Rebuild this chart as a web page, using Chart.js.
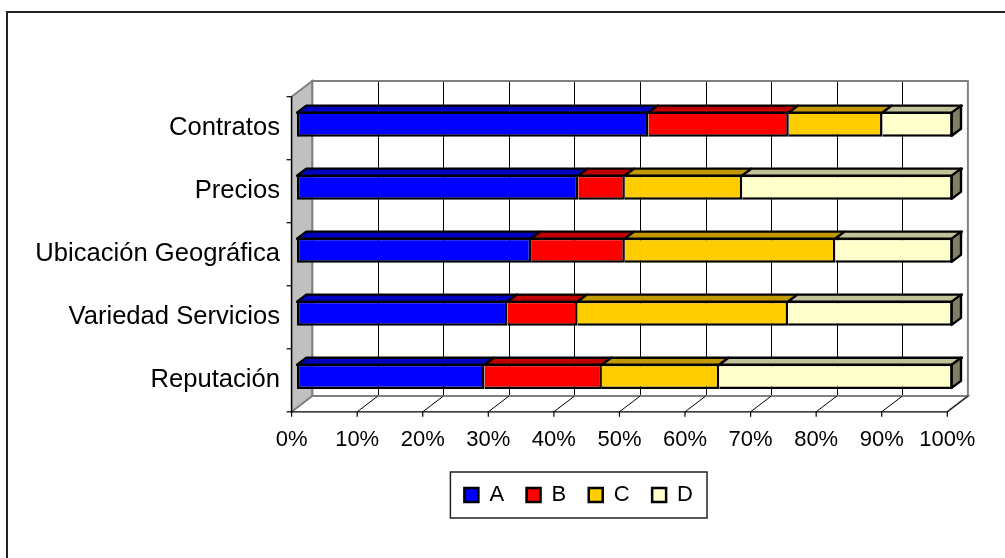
<!DOCTYPE html>
<html>
<head>
<meta charset="utf-8">
<script src="https://cdn.jsdelivr.net/npm/chart.js@4"></script>
<style>
  html, body { margin: 0; padding: 0; background: #fff; }
</style>
</head>
<body>
<canvas id="chart" width="1005" height="558"></canvas>
<script>
const categories = ['Contratos', 'Precios', 'Ubicación Geográfica', 'Variedad Servicios', 'Reputación']
const seriesNames = ['A', 'B', 'C', 'D']
const valuesA = [53.6, 42.9, 35.7, 32.1, 28.6]
const valuesB = [21.4, 7.1, 14.3, 10.7, 17.9]
const valuesC = [14.3, 17.9, 32.1, 32.1, 17.9]
const valuesD = [10.7, 32.1, 17.9, 25.1, 35.6]
const xTickValues = [0, 10, 20, 30, 40, 50, 60, 70, 80, 90, 100]

const faceColors = ['#0000FF', '#FF0000', '#FFCC00', '#FFFFCC']
const topColors = ['#0000C0', '#C00000', '#C09900', '#C0C099']
const endColor = '#808066'

// offsets of the front axis plane, the back wall and the bar depth,
// measured from the plane the bar fronts are drawn in
const depth = { fx: -5.4, fy: 4.0, bx: 15.2, by: -11.7, dx: 9.3, dy: -7.0 }

const fontFamily = 'Arial, "Liberation Sans", sans-serif'
Chart.defaults.font.family = fontFamily
Chart.defaults.color = '#000'

const plotLeft = 297
const padLeft = 204.7
const catFontSize = 25.6

// the category labels are mirrored so they are not clipped to the axis box;
// their right edge is put back 17px left of the plot with a negative padding
const measure = document.createElement('canvas').getContext('2d')
measure.font = catFontSize + 'px ' + fontFamily
const widestCat = Math.max(...categories.map(c => measure.measureText(c).width))

const box3d = {
  id: 'box3d',
  beforeDraw(chart) {
    const ctx = chart.ctx
    ctx.save()
    ctx.strokeStyle = '#222'
    ctx.lineWidth = 2
    ctx.beginPath()
    ctx.moveTo(7, chart.height)
    ctx.lineTo(7, 12)
    ctx.lineTo(chart.width, 12)
    ctx.stroke()
    ctx.restore()
  },
  beforeDatasetsDraw(chart) {
    const { ctx, chartArea: a, scales: { x, y } } = chart
    const L = a.left + depth.bx, R = a.right + depth.bx
    const T = a.top + depth.by, B = a.bottom + depth.by
    const fl = a.left + depth.fx, fr = a.right + depth.fx
    const ft = a.top + depth.fy, fb = a.bottom + depth.fy
    ctx.save()

    // back wall and its gridlines
    ctx.fillStyle = '#fff'
    ctx.fillRect(L, T, R - L, B - T)
    ctx.strokeStyle = '#000'
    ctx.lineWidth = 1
    xTickValues.slice(1, -1).forEach(v => {
      const px = Math.round(x.getPixelForValue(v) + depth.bx) + 0.5
      ctx.beginPath()
      ctx.moveTo(px, T)
      ctx.lineTo(px, B)
      ctx.stroke()
    })
    ctx.strokeStyle = '#808080'
    ctx.lineWidth = 2
    ctx.strokeRect(L, T, R - L, B - T)

    // floor
    ctx.fillStyle = '#fff'
    ctx.beginPath()
    ctx.moveTo(fl, fb)
    ctx.lineTo(L, B)
    ctx.lineTo(R, B)
    ctx.lineTo(fr, fb)
    ctx.closePath()
    ctx.fill()
    ctx.beginPath()
    ctx.moveTo(L, B)
    ctx.lineTo(R, B)
    ctx.lineTo(fr, fb)
    ctx.stroke()
    ctx.strokeStyle = '#000'
    ctx.lineWidth = 1
    xTickValues.forEach(v => {
      const px = x.getPixelForValue(v)
      ctx.beginPath()
      ctx.moveTo(px + depth.fx, fb)
      ctx.lineTo(px + depth.bx, B)
      ctx.stroke()
    })

    // side wall
    ctx.fillStyle = '#C0C0C0'
    ctx.strokeStyle = '#808080'
    ctx.lineWidth = 2
    ctx.beginPath()
    ctx.moveTo(fl, ft)
    ctx.lineTo(L, T)
    ctx.lineTo(L, B)
    ctx.lineTo(fl, fb)
    ctx.closePath()
    ctx.fill()
    ctx.stroke()

    // front axes with tick marks
    ctx.strokeStyle = '#000'
    ctx.lineWidth = 1.2
    ctx.beginPath()
    ctx.moveTo(fl, ft)
    ctx.lineTo(fl, fb)
    ctx.lineTo(fr, fb)
    ctx.stroke()
    for (let i = 0; i <= categories.length; i++) {
      const py = y.getPixelForValue(i - 0.5) + depth.fy
      ctx.beginPath()
      ctx.moveTo(fl - 5, py)
      ctx.lineTo(fl, py)
      ctx.stroke()
    }
    xTickValues.forEach(v => {
      const px = x.getPixelForValue(v) + depth.fx
      ctx.beginPath()
      ctx.moveTo(px, fb)
      ctx.lineTo(px, fb + 5)
      ctx.stroke()
    })
    ctx.restore()
  },
  afterDatasetsDraw(chart) {
    const ctx = chart.ctx
    const last = chart.data.datasets.length - 1
    ctx.save()
    ctx.strokeStyle = '#000'
    ctx.lineWidth = 2.4
    ctx.lineJoin = 'round'
    chart.data.datasets.forEach((ds, i) => {
      chart.getDatasetMeta(i).data.forEach(bar => {
        const { x, y, base, height } = bar.getProps(['x', 'y', 'base', 'height'], true)
        const l = Math.min(x, base), r = Math.max(x, base)
        const t = y - height / 2 + 1, b = y + height / 2 - 1
        ctx.fillStyle = topColors[i]
        ctx.beginPath()
        ctx.moveTo(l, t)
        ctx.lineTo(l + depth.dx, t + depth.dy)
        ctx.lineTo(r + depth.dx, t + depth.dy)
        ctx.lineTo(r, t)
        ctx.closePath()
        ctx.fill()
        ctx.stroke()
        if (i === last) {
          ctx.fillStyle = endColor
          ctx.beginPath()
          ctx.moveTo(r - 1, t)
          ctx.lineTo(r - 1 + depth.dx, t + depth.dy)
          ctx.lineTo(r - 1 + depth.dx, b + depth.dy)
          ctx.lineTo(r - 1, b)
          ctx.closePath()
          ctx.fill()
          ctx.stroke()
        }
      })
    })
    ctx.restore()
  },
  afterDraw(chart) {
    // frame round the legend
    const hb = chart.legend.legendHitBoxes
    if (!hb || !hb.length) return
    const first = hb[0], lastBox = hb[hb.length - 1]
    const cy = first.top + first.height / 2
    const left = first.left - 14, right = lastBox.left + lastBox.width + 14
    const ctx = chart.ctx
    ctx.save()
    ctx.strokeStyle = '#222'
    ctx.lineWidth = 1.5
    ctx.strokeRect(left, cy - 23, right - left, 46)
    ctx.restore()
  }
}

const allValues = [valuesA, valuesB, valuesC, valuesD]

new Chart(document.getElementById('chart'), {
  type: 'bar',
  data: {
    labels: categories,
    datasets: seriesNames.map((name, i) => ({
      label: name,
      data: allValues[i],
      backgroundColor: faceColors[i],
      borderColor: '#000',
      borderWidth: 2.5,
      borderSkipped: i === 0 ? false : 'start',
      barPercentage: 0.4,
      categoryPercentage: 1
    }))
  },
  options: {
    indexAxis: 'y',
    responsive: false,
    animation: false,
    layout: { padding: { left: padLeft, right: 52.3, top: 92.7, bottom: 42 } },
    plugins: {
      tooltip: { enabled: false },
      legend: {
        position: 'bottom',
        labels: {
          boxWidth: 14,
          boxHeight: 14,
          padding: 22.5,
          font: { size: 22 },
          color: '#000'
        }
      }
    },
    scales: {
      x: {
        stacked: true,
        min: 0,
        max: 100,
        afterBuildTicks: scale => { scale.ticks = xTickValues.map(v => ({ value: v })) },
        afterFit: scale => { scale.height = 53.7 },
        grid: { display: false, drawTicks: false },
        border: { display: false },
        ticks: {
          autoSkip: false,
          maxRotation: 0,
          padding: 19,
          labelOffset: depth.fx,
          font: { size: 22 },
          callback: v => v + '%'
        }
      },
      y: {
        stacked: true,
        afterFit: scale => { scale.width = plotLeft - padLeft },
        grid: { display: false, drawTicks: false },
        border: { display: false },
        ticks: {
          mirror: true,
          crossAlign: 'far',
          padding: -17 - widestCat,
          labelOffset: 4,
          font: { size: catFontSize }
        }
      }
    }
  },
  plugins: [box3d]
})
</script>
</body>
</html>
